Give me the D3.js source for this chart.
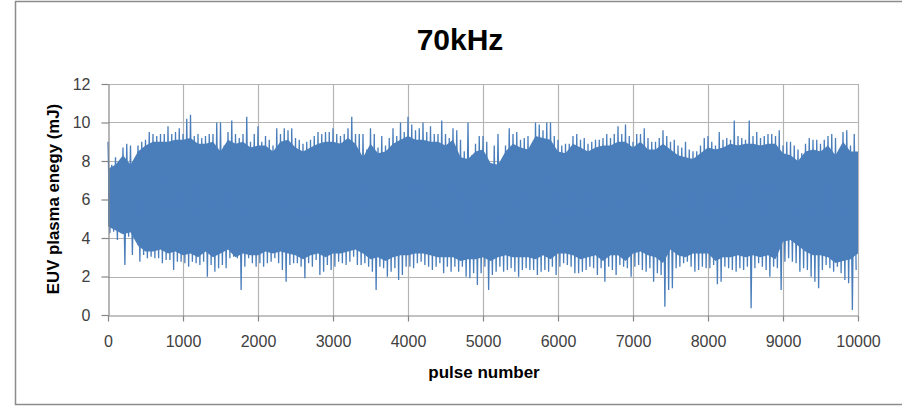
<!DOCTYPE html>
<html>
<head>
<meta charset="utf-8">
<script src="https://cdn.jsdelivr.net/npm/d3@7"></script>
<style>
  body { margin: 0; background: #fff; }
  svg { display: block; }
  text { font-family: "Liberation Sans", Arial, sans-serif; }
</style>
</head>
<body>
<svg id="chart" width="902" height="406"></svg>
<script>
// EUV plasma energy per pulse at 70 kHz, summarised in blocks of 50 pulses:
// the highest and lowest pulse energy (mJ) seen in each block.
const blockSize = 50;
const peakHigh = [
  9.0, 7.8, 8.2, 8.0, 8.7, 8.9, 8.8, 7.9, 8.8, 9.0,
  9.1, 9.5, 9.4, 9.3, 9.4, 9.4, 9.8, 9.4, 9.5, 9.7,
  9.4, 10.2, 10.4, 9.3, 9.4, 9.2, 9.3, 9.4, 9.4, 10.0,
  10.0, 8.8, 9.5, 10.1, 9.4, 9.2, 9.4, 10.3, 9.0, 9.4,
  9.8, 9.0, 9.3, 9.1, 8.8, 9.7, 9.4, 9.7, 9.6, 9.7,
  9.2, 9.1, 8.9, 9.0, 9.1, 9.3, 9.5, 9.4, 9.5, 9.5,
  9.7, 9.4, 9.3, 9.4, 9.7, 10.3, 9.4, 9.4, 9.4, 8.6,
  9.7, 9.4, 8.7, 9.3, 8.8, 9.2, 9.7, 9.3, 10.0, 9.5,
  10.3, 9.9, 9.6, 9.7, 10.0, 9.5, 9.8, 9.4, 9.4, 10.1,
  9.4, 9.2, 9.7, 9.6, 9.1, 8.5, 10.0, 8.3, 8.9, 9.3,
  9.3, 9.0, 7.9, 8.8, 9.4, 7.7, 8.8, 9.7, 9.4, 9.5,
  9.1, 9.2, 9.3, 8.9, 10.0, 9.9, 9.6, 10.0, 10.0, 9.3,
  9.1, 8.8, 8.9, 8.9, 9.3, 9.4, 9.1, 9.2, 8.9, 9.0,
  9.1, 9.1, 9.2, 9.4, 9.2, 9.4, 9.8, 9.4, 9.9, 9.3,
  9.0, 9.4, 9.4, 9.7, 9.2, 9.0, 9.0, 9.2, 9.6, 9.3,
  9.0, 9.1, 8.8, 8.7, 9.0, 8.6, 8.5, 8.5, 8.8, 9.2,
  9.3, 9.0, 8.8, 9.5, 9.1, 9.2, 9.1, 10.1, 9.3, 9.2,
  9.1, 10.1, 9.3, 9.5, 9.2, 9.3, 9.4, 9.4, 9.3, 9.6,
  8.8, 9.0, 9.0, 8.8, 8.6, 8.4, 8.9, 9.2, 9.1, 9.1,
  8.9, 9.1, 9.3, 9.4, 9.2, 8.6, 9.5, 9.6, 8.8, 9.4
];
const peakLow = [
  4.25, 4.33, 3.90, 4.25, 2.60, 4.07, 3.12, 4.25, 2.77, 3.12,
  2.95, 3.03, 2.95, 2.95, 2.69, 2.86, 2.86, 2.34, 2.77, 2.77,
  2.69, 2.51, 2.77, 2.69, 2.60, 2.77, 1.99, 2.60, 2.25, 2.43,
  2.60, 2.43, 2.95, 3.03, 2.95, 1.30, 2.51, 2.95, 2.69, 2.51,
  2.69, 2.51, 2.69, 2.77, 2.95, 2.69, 2.34, 1.73, 2.60, 2.69,
  2.69, 2.51, 1.91, 2.69, 2.51, 2.86, 2.08, 2.25, 2.60, 2.34,
  2.51, 2.77, 2.69, 2.60, 2.77, 3.03, 2.60, 2.60, 2.69, 2.51,
  2.25, 1.30, 2.51, 2.43, 1.99, 2.25, 2.43, 1.82, 2.08, 2.51,
  2.51, 2.43, 2.69, 2.77, 2.60, 2.51, 2.34, 2.51, 2.69, 2.17,
  2.51, 2.25, 2.51, 2.25, 2.51, 1.99, 1.91, 2.17, 1.56, 2.17,
  2.51, 1.30, 2.08, 2.25, 2.51, 2.25, 2.34, 2.43, 2.25, 1.99,
  2.34, 2.43, 2.34, 2.34, 2.08, 2.25, 2.34, 2.25, 2.51, 2.08,
  2.51, 2.69, 2.60, 2.51, 2.17, 2.17, 2.25, 2.34, 2.51, 2.43,
  2.08, 2.43, 1.73, 2.51, 2.34, 2.08, 2.60, 2.51, 2.43, 1.99,
  2.51, 2.60, 2.34, 2.25, 2.43, 1.73, 2.17, 2.08, 0.43, 1.30,
  1.39, 2.43, 2.51, 2.69, 2.77, 2.51, 2.25, 2.34, 2.51, 2.43,
  2.43, 2.60, 1.60, 1.73, 2.51, 2.43, 2.34, 2.25, 2.43, 2.34,
  2.51, 0.35, 2.43, 2.69, 2.51, 2.34, 1.99, 2.51, 2.43, 1.30,
  2.77, 2.95, 2.77, 2.69, 2.25, 2.43, 2.34, 1.99, 1.73, 1.39,
  2.34, 2.60, 2.43, 2.25, 2.51, 2.17, 1.82, 1.65, 0.26, 2.34
];

// Edges of the dense band where nearly every pulse falls (mJ), every 100 pulses.
const bandStep = 100;
const bandTop = [
  7.6, 7.8, 8.3, 7.8, 8.5, 8.8, 9.0, 9.0, 9.0, 9.1,
  9.1, 9.2, 8.9, 8.9, 9.0, 8.5, 9.1, 8.9, 9.0, 8.7,
  8.8, 8.8, 8.5, 9.0, 9.1, 8.7, 8.5, 8.7, 8.9, 9.0,
  9.0, 8.9, 9.2, 8.9, 8.2, 8.9, 8.4, 8.5, 8.9, 9.1,
  9.3, 9.1, 9.1, 9.0, 9.0, 8.8, 9.1, 8.2, 8.1, 8.5,
  8.6, 7.9, 7.8, 8.5, 8.9, 8.7, 8.6, 9.3, 9.2, 9.1,
  8.5, 8.4, 8.9, 8.7, 8.5, 8.7, 8.8, 8.8, 9.0, 9.0,
  8.7, 9.0, 8.6, 8.6, 8.9, 8.6, 8.3, 8.2, 8.1, 8.4,
  8.7, 8.6, 8.7, 8.9, 8.8, 8.9, 8.9, 8.8, 8.9, 8.9,
  8.4, 8.3, 8.0, 8.5, 8.6, 8.5, 8.8, 8.3, 9.0, 8.5,
  8.5
];
const bandBottom = [
  4.6, 4.4, 4.2, 4.3, 3.6, 3.3, 3.3, 3.4, 3.2, 3.3,
  3.1, 3.2, 3.0, 3.3, 3.0, 3.2, 3.4, 3.0, 3.2, 3.1,
  3.1, 3.3, 3.2, 3.3, 3.2, 3.1, 2.9, 3.1, 3.2, 3.0,
  3.2, 3.2, 3.3, 3.4, 3.2, 2.9, 3.0, 2.8, 3.0, 3.1,
  3.1, 3.2, 3.2, 3.1, 3.0, 3.0, 3.0, 2.8, 2.9, 2.9,
  3.0, 2.8, 3.0, 3.1, 3.0, 3.0, 3.0, 2.9, 3.1, 2.9,
  3.2, 3.2, 3.1, 2.9, 3.0, 3.1, 2.8, 3.1, 3.1, 2.8,
  3.2, 3.3, 3.1, 3.0, 2.7, 3.4, 3.1, 3.0, 3.2, 3.2,
  3.2, 2.8, 3.0, 3.0, 3.1, 3.0, 3.1, 3.0, 3.1, 2.9,
  3.8, 3.9, 3.6, 3.3, 3.1, 3.1, 3.0, 2.7, 2.8, 2.9,
  3.2
];

const xTicks = [0, 1000, 2000, 3000, 4000, 5000, 6000, 7000, 8000, 9000, 10000];
const yTicks = [0, 2, 4, 6, 8, 10, 12];

const titleText = "70kHz";
const xTitle = "pulse number";
const yTitle = "EUV plasma enegy (mJ)";

const lineColor = "#4a7ebb";
const gridColor = "#b4b4b4";
const axisColor = "#868686";

const svg = d3.select("#chart");

// chart frame
svg.append("rect")
  .attr("x", 15.5).attr("y", 1.5)
  .attr("width", 900).attr("height", 403)
  .attr("fill", "#fff")
  .attr("stroke", "#8c8c8c")
  .attr("stroke-width", 1.5);

const x = d3.scaleLinear().domain([0, 10000]).range([108, 858]);
const y = d3.scaleLinear().domain([0, 12]).range([315, 84]);

// gridlines
const grid = svg.append("g");
grid.selectAll("line.h").data(yTicks.filter(d => d > 0)).join("line")
  .attr("x1", x(0)).attr("x2", x(10000))
  .attr("y1", d => Math.round(y(d)) + 0.5).attr("y2", d => Math.round(y(d)) + 0.5)
  .attr("stroke", gridColor).attr("stroke-width", 1.2);
grid.selectAll("line.v").data(xTicks.filter(d => d > 0)).join("line")
  .attr("x1", d => Math.round(x(d)) + 0.5).attr("x2", d => Math.round(x(d)) + 0.5)
  .attr("y1", y(12)).attr("y2", y(0))
  .attr("stroke", gridColor).attr("stroke-width", 1.2);

// series: the pulse sequence alternates between each block's high and low
const series = [];
peakHigh.forEach((v, k) => {
  series.push({ p: k * blockSize, v: v });
  series.push({ p: k * blockSize + blockSize / 2, v: peakLow[k] });
});

const band = bandTop.map((t, i) => ({ p: i * bandStep, top: t, bottom: bandBottom[i] }));

const plot = svg.append("g");
plot.append("path")
  .datum(band)
  .attr("fill", lineColor)
  .attr("d", d3.area()
    .x(d => x(d.p))
    .y0(d => y(d.bottom))
    .y1(d => y(d.top)));

plot.append("path")
  .datum(series)
  .attr("fill", "none")
  .attr("stroke", lineColor)
  .attr("stroke-width", 1.3)
  .attr("stroke-linejoin", "miter")
  .attr("d", d3.line().x(d => x(d.p)).y(d => y(d.v)));

// axes
const yAxis = svg.append("g")
  .attr("transform", "translate(108.5,0)")
  .call(d3.axisLeft(y).tickValues(yTicks).tickSize(7).tickSizeOuter(0).tickPadding(11));
const xAxis = svg.append("g")
  .attr("transform", "translate(0,315.5)")
  .call(d3.axisBottom(x).tickValues(xTicks).tickSize(6).tickSizeOuter(0).tickPadding(14)
    .tickFormat(d3.format("d")));

[yAxis, xAxis].forEach(a => {
  a.select(".domain").attr("stroke", axisColor).attr("stroke-width", 1.2);
  a.selectAll(".tick line").attr("stroke", axisColor).attr("stroke-width", 1.2);
  a.selectAll(".tick text")
    .attr("fill", "#404040")
    .style("font-size", "16px")
    .style("font-family", "'Liberation Sans', Arial, sans-serif");
});

// titles
svg.append("text")
  .attr("x", 460).attr("y", 50)
  .attr("text-anchor", "middle")
  .style("font-size", "30px").style("font-weight", "bold")
  .attr("fill", "#000")
  .text(titleText);

svg.append("text")
  .attr("x", 484).attr("y", 378)
  .attr("text-anchor", "middle")
  .style("font-size", "17px").style("font-weight", "bold")
  .attr("fill", "#000")
  .text(xTitle);

svg.append("text")
  .attr("transform", "translate(59,199) rotate(-90)")
  .attr("text-anchor", "middle")
  .style("font-size", "16.8px").style("font-weight", "bold")
  .attr("fill", "#000")
  .text(yTitle);
</script>
</body>
</html>
